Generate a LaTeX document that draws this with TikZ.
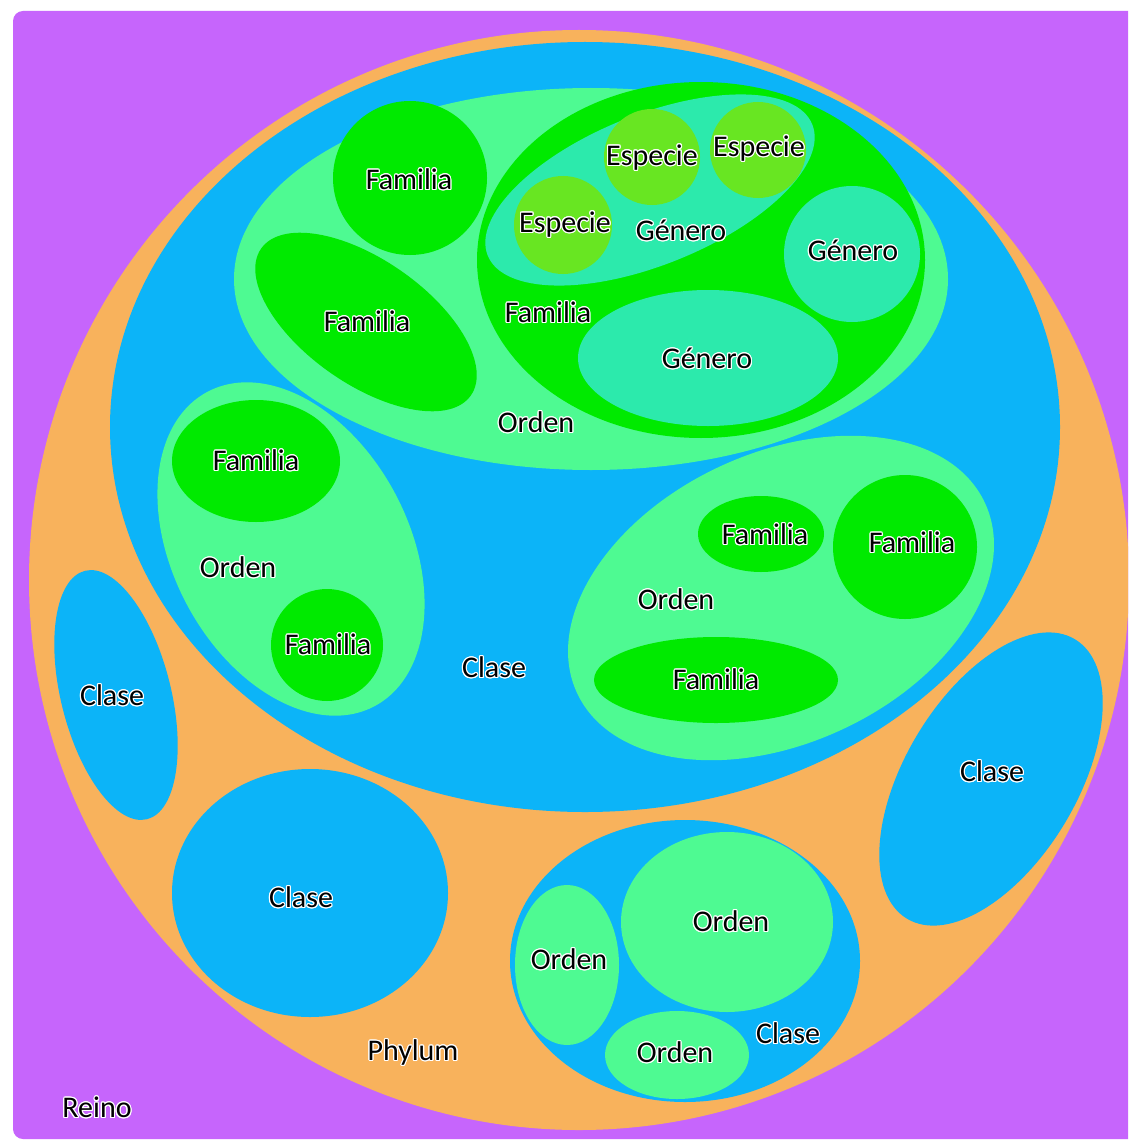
\documentclass[tikz,border=0pt]{standalone}
\usepackage{fontspec}
\setmainfont{Carlito}
\usepackage{contour}
\contourlength{1.1pt}
\definecolor{reino}{RGB}{198,101,252}
\definecolor{phylum}{RGB}{248,178,92}
\definecolor{clase}{RGB}{12,180,248}
\definecolor{orden}{RGB}{78,250,146}
\definecolor{familia}{RGB}{0,234,0}
\definecolor{genero}{RGB}{44,234,172}
\definecolor{especie}{RGB}{104,230,34}
\tikzset{
  lbl/.style={font=\fontsize{30}{32}\selectfont, text=black, inner sep=0pt},
}
\newcommand{\hl}[1]{\contour{white}{#1}}
\begin{document}
\begin{tikzpicture}[x=1pt,y=-1pt]
\useasboundingbox (0,0) rectangle (1128,1142);
\clip (0,0) rectangle (1128,1142);
\fill[white] (0,0) rectangle (1128,1142);
% Reino
\fill[reino, rounded corners=10pt] (13,11) rectangle (1145,1139);
% Phylum
\fill[phylum] (579,580) circle [radius=550];
% Big Clase
\fill[clase] (585,427) ellipse [x radius=475, y radius=385];
% Top Orden
\fill[orden] (591,279) ellipse [x radius=357, y radius=191];
\fill[familia] (410,178) circle [radius=77];
\fill[familia, rotate around={-35:(366,322)}] (366,322) ellipse [x radius=128, y radius=62];
\fill[familia] (701,260) ellipse [x radius=224, y radius=178];
\fill[genero, rotate around={22:(650,190)}] (650,190) ellipse [x radius=175, y radius=75];
\fill[especie] (652,157) circle [radius=48];
\fill[especie] (758,150) circle [radius=48];
\fill[especie] (563,225) circle [radius=49];
\fill[genero] (852,254) circle [radius=68];
\fill[genero] (708,358) ellipse [x radius=130, y radius=68];
% Left Orden
\fill[orden, rotate around={-62:(291,549)}] (291,549) ellipse [x radius=178, y radius=118];
\fill[familia] (256,461) ellipse [x radius=84, y radius=61];
\fill[familia] (327,645) circle [radius=56];
% Right Orden
\fill[orden, rotate around={25:(781,598)}] (781,598) ellipse [x radius=225, y radius=145];
\fill[familia] (761,534) ellipse [x radius=63, y radius=38];
\fill[familia] (905,547) circle [radius=72];
\fill[familia] (716,680) ellipse [x radius=122, y radius=43];
% Other Clases
\fill[clase, rotate around={-76:(116,695)}] (116,695) ellipse [x radius=128, y radius=55];
\fill[clase] (310,893) ellipse [x radius=138, y radius=124];
\fill[clase, rotate around={59:(991,779)}] (991,779) ellipse [x radius=163, y radius=86];
% Bottom Clase
\fill[clase] (685,961) ellipse [x radius=175, y radius=141];
\fill[orden] (567,965) ellipse [x radius=52, y radius=80];
\fill[orden] (727,922) ellipse [x radius=106, y radius=90];
\fill[orden] (677,1055) ellipse [x radius=72, y radius=44];
% Labels
\node[lbl] (fam1) at (409,180) {\hl{Familia}};
\node[lbl] (fam2) at (367,322) {\hl{Familia}};
\node[lbl] (fam3) at (548,313) {\hl{Familia}};
\node[lbl] (esp1) at (652,158) {\hl{Especie}};
\node[lbl] (esp2) at (759,149) {\hl{Especie}};
\node[lbl] (esp3) at (565,225) {\hl{Especie}};
\node[lbl] (gen1) at (681,231) {\hl{Género}};
\node[lbl] (gen2) at (853,251) {\hl{Género}};
\node[lbl] (gen3) at (707,359) {\hl{Género}};
\node[lbl] (ord1) at (536,423) {\hl{Orden}};
\node[lbl] (fam4) at (256,461) {\hl{Familia}};
\node[lbl] (ord2) at (238,568) {\hl{Orden}};
\node[lbl] (fam5) at (328,645) {\hl{Familia}};
\node[lbl] (cla1) at (494,668) {\hl{Clase}};
\node[lbl] (fam6) at (765,535) {\hl{Familia}};
\node[lbl] (fam7) at (912,543) {\hl{Familia}};
\node[lbl] (ord3) at (676,600) {\hl{Orden}};
\node[lbl] (fam8) at (716,680) {\hl{Familia}};
\node[lbl] (cla2) at (112,696) {\hl{Clase}};
\node[lbl] (cla3) at (992,772) {\hl{Clase}};
\node[lbl] (cla4) at (301,898) {\hl{Clase}};
\node[lbl] (ord4) at (569,960) {\hl{Orden}};
\node[lbl] (ord5) at (731,922) {\hl{Orden}};
\node[lbl] (ord6) at (675,1053) {\hl{Orden}};
\node[lbl] (cla5) at (788,1034) {\hl{Clase}};
\node[lbl] (phy) at (413,1053) {\hl{Phylum}};
\node[lbl] (rei) at (97,1108) {\hl{Reino}};
\end{tikzpicture}
\end{document}
